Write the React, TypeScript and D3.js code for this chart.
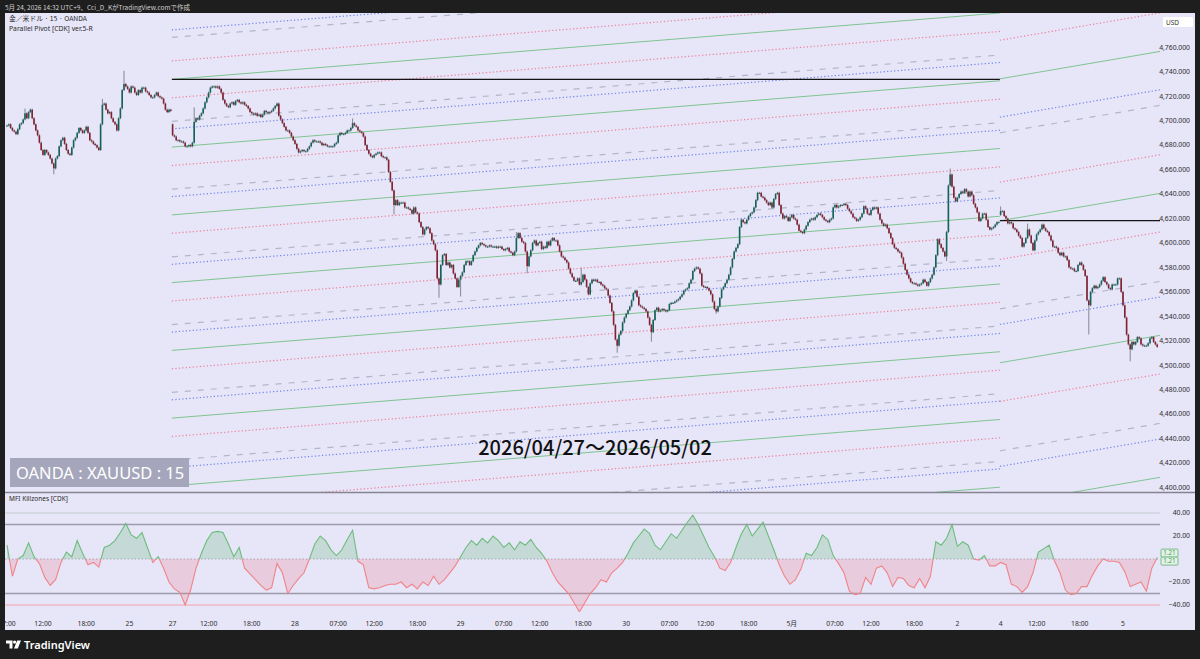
import React from "react";
import * as d3 from "d3";

// 15-minute closes, one array per trading session (JST)
const fri24Closes = [
  4696, 4697, 4694, 4692, 4691, 4689, 4693, 4697, 4698, 4701,
  4706, 4702, 4707, 4709, 4702, 4697, 4692, 4688, 4682, 4676,
  4672, 4676, 4674, 4672, 4669, 4665, 4661, 4669, 4671, 4679,
  4684, 4686, 4681, 4676, 4673, 4672, 4678, 4684, 4686, 4690,
  4694, 4692, 4690, 4692, 4695, 4690, 4684, 4683, 4681, 4680,
  4678, 4676, 4697, 4713, 4714, 4709, 4706, 4707, 4702, 4699,
  4697, 4692, 4702, 4710, 4725, 4730, 4728, 4726, 4723, 4728,
  4727, 4723, 4721, 4725, 4723, 4727, 4727, 4724, 4723, 4721,
  4719, 4719, 4721, 4723, 4720, 4719, 4718, 4714, 4709, 4707,
  4709, 4708,
];
const mon27Closes = [
  4688, 4687, 4684, 4684, 4683, 4683, 4682, 4679, 4679, 4680,
  4679, 4682, 4699, 4702, 4701, 4704, 4706, 4710, 4715, 4719,
  4723, 4727, 4728, 4728, 4727, 4728, 4726, 4723, 4717, 4714,
  4712, 4711, 4714, 4715, 4713, 4716, 4717, 4715, 4714, 4715,
  4713, 4712, 4710, 4707, 4706, 4705, 4706, 4704, 4705, 4703,
  4705, 4708, 4707, 4706, 4707, 4708, 4710, 4712, 4714, 4704,
  4701, 4698, 4695, 4692, 4692, 4690, 4687, 4684, 4681, 4677,
  4674, 4675, 4676, 4675, 4675, 4677, 4679, 4682, 4684, 4683,
  4683, 4683, 4682, 4680, 4681, 4680, 4679, 4679, 4679, 4679,
  4681, 4682,
];
const tue28Closes = [
  4688, 4690, 4689, 4689, 4690, 4692, 4692, 4694, 4698, 4696,
  4695, 4692, 4691, 4690, 4687, 4680, 4676, 4673, 4671, 4670,
  4672, 4673, 4674, 4674, 4671, 4670, 4670, 4668, 4658, 4650,
  4643, 4631, 4635, 4631, 4633, 4633, 4633, 4629, 4629, 4628,
  4627, 4624, 4629, 4625, 4624, 4617, 4613, 4607, 4611, 4613,
  4612, 4608, 4602, 4599, 4594, 4571, 4566, 4582, 4590, 4591,
  4582, 4584, 4580, 4582, 4575, 4571, 4564, 4570, 4573, 4576,
  4582, 4585, 4585, 4582, 4585, 4590, 4593, 4596, 4598, 4600,
  4599, 4598, 4597, 4597, 4598, 4597, 4597, 4597, 4596, 4597,
  4597, 4595,
];
const wed29Closes = [
  4594, 4595, 4596, 4593, 4592, 4590, 4593, 4604, 4608, 4604,
  4601, 4600, 4593, 4581, 4589, 4594, 4600, 4602, 4598, 4600,
  4601, 4595, 4597, 4596, 4601, 4598, 4602, 4604, 4602, 4602,
  4598, 4593, 4589, 4588, 4586, 4584, 4579, 4575, 4572, 4569,
  4569, 4571, 4566, 4568, 4574, 4570, 4564, 4558, 4567, 4570,
  4569, 4570, 4568, 4568, 4566, 4565, 4563, 4562, 4557, 4551,
  4544, 4533, 4521, 4516, 4525, 4528, 4535, 4539, 4542, 4545,
  4548, 4553, 4559, 4561, 4556, 4549, 4548, 4547, 4546, 4544,
  4539, 4533, 4527, 4537, 4545, 4547, 4544, 4545, 4546, 4545,
  4544, 4545,
];
const thu30Closes = [
  4550, 4551, 4551, 4552, 4553, 4554, 4556, 4558, 4561, 4562,
  4563, 4567, 4570, 4577, 4579, 4580, 4579, 4575, 4565, 4564,
  4564, 4563, 4561, 4558, 4552, 4546, 4544, 4548, 4555, 4562,
  4564, 4567, 4570, 4574, 4580, 4587, 4593, 4596, 4599, 4613,
  4619, 4617, 4616, 4619, 4622, 4624, 4625, 4629, 4635, 4641,
  4641, 4638, 4637, 4635, 4633, 4631, 4633, 4629, 4636, 4640,
  4641, 4631, 4624, 4620, 4622, 4621, 4618, 4621, 4623, 4620,
  4619, 4615, 4610, 4609, 4608, 4611, 4614, 4617, 4619, 4620,
  4619, 4621, 4623, 4624, 4623, 4621, 4619, 4618, 4617, 4619,
  4620, 4629,
];
const fri01Closes = [
  4631, 4629, 4630, 4631, 4631, 4632, 4631, 4628, 4626, 4624,
  4621, 4620, 4618, 4619, 4621, 4624, 4630, 4628, 4624, 4623,
  4627, 4629, 4628, 4629, 4624, 4619, 4616, 4614, 4615, 4612,
  4608, 4604, 4599, 4596, 4595, 4593, 4592, 4588, 4583, 4578,
  4574, 4571, 4568, 4567, 4567, 4566, 4565, 4566, 4567, 4570,
  4568, 4565, 4568, 4571, 4574, 4580, 4590, 4603, 4599, 4596,
  4593, 4589, 4609, 4647, 4656, 4646, 4637, 4634, 4637, 4640,
  4642, 4641, 4644, 4642, 4638, 4642, 4639, 4632, 4629, 4625,
  4618, 4620, 4624, 4624, 4619, 4613, 4611, 4612, 4613, 4615,
  4617, 4617,
];
const mon04Closes = [
  4626, 4626, 4622, 4620, 4616, 4617, 4616, 4612, 4611, 4609,
  4606, 4604, 4597, 4600, 4604, 4611, 4606, 4600, 4594, 4602,
  4607, 4609, 4611, 4615, 4612, 4610, 4609, 4606, 4602, 4597,
  4597, 4596, 4592, 4590, 4592, 4589, 4589, 4586, 4580, 4579,
  4579, 4577, 4577, 4582, 4584, 4582, 4578, 4573, 4553, 4549,
  4560, 4563, 4565, 4563, 4564, 4566, 4569, 4572, 4568, 4566,
  4563, 4562, 4566, 4566, 4566, 4571, 4571, 4560, 4549, 4539,
  4525, 4517, 4513, 4519, 4517, 4519, 4523, 4522, 4517, 4516,
  4516, 4516, 4518, 4522, 4523, 4519, 4517, 4515,
];
const sessionCloses = [
  fri24Closes, mon27Closes, tue28Closes, wed29Closes,
  thu30Closes, fri01Closes, mon04Closes,
];

// weekly opening gaps and the long wicks that stand out
const gapOpens = [
  { bar: 92, open: 4697 },
  { bar: 552, open: 4623 },
];
const wickExtremes = [
  { bar: 10, high: 4709 },
  { bar: 26, low: 4657 },
  { bar: 53, high: 4717 },
  { bar: 65, high: 4740 },
  { bar: 104, high: 4710 },
  { bar: 192, high: 4701 },
  { bar: 215, low: 4624 },
  { bar: 240, low: 4556 },
  { bar: 252, low: 4557 },
  { bar: 283, high: 4608 },
  { bar: 289, low: 4576 },
  { bar: 319, high: 4579 },
  { bar: 339, low: 4511 },
  { bar: 358, low: 4520 },
  { bar: 394, low: 4543 },
  { bar: 522, low: 4586 },
  { bar: 524, high: 4660 },
  { bar: 552, high: 4629 },
  { bar: 567, high: 4615 },
  { bar: 601, low: 4526 },
  { bar: 624, low: 4504 },
];

// MFI Killzones, one reading every 3 bars
const mfiStep = 3;
const mfiValues = [
  12, -15, 0, 3, 14, 2, -4, -16, -23, -18,
  -3, 6, 2, 16, 5, -5, -3, -7, 10, 12,
  16, 23, 31, 21, 18, 23, 10, -3, 2, -8,
  -20, -26, -29, -40, -27, -8, 5, 16, 23, 24,
  23, 13, 2, 10, -8, -13, -18, -23, -27, -25,
  -4, -12, -30, -23, -17, -12, 0, 13, 20, 16,
  8, 3, 8, 17, 25, -2, -5, -25, -26, -25,
  -23, -22, -22, -20, -25, -22, -26, -20, -23, -15,
  -22, -18, -12, -6, 2, 10, 16, 12, 18, 14,
  20, 16, 10, 14, 8, 15, 12, 17, 10, 5,
  -2, -12, -20, -25, -30, -38, -46, -38, -30, -25,
  -18, -20, -12, -8, -3, 5, 14, 20, 26, 22,
  12, 8, 15, 22, 18, 25, 32, 38, 30, 20,
  10, 2, -8, -10, -3, 10, 22, 30, 20, 26,
  32, 20, 8, -5, -15, -22, -18, -9, 5, 3,
  10, 21, 17, 3, -4, -12, -28, -31, -30, -16,
  -22, -8, -6, -12, -24, -16, -17, -23, -25, -17,
  -25, -15, 15, 12, 18, 30, 11, 15, 12, 0,
  -1, 3, -6, -6, -3, -5, -22, -24, -29, -24,
  -12, 6, 9, 12, -2, -12, -27, -31, -30, -24,
  -24, -14, -6, 0, -2, -2, -3, -11, -24, -22,
  -20, -28, -8, 1.21,
];
const mfiLevels = [40, 30, 0, -30, -40];
const mfiTickLabels = [40, 20, -20, -40];

const timeTickBars = [
  0, 20, 44, 68, 92, 112, 136, 160, 184, 204, 228, 252, 276, 296,
  320, 344, 368, 388, 412, 436, 460, 480, 504, 528, 552, 572, 596, 620,
];
const timeTickLabels = [
  "07:00", "12:00", "18:00", "25", "27", "12:00", "18:00", "28",
  "07:00", "12:00", "18:00", "29", "07:00", "12:00", "18:00", "30",
  "07:00", "12:00", "18:00", "5月", "07:00", "12:00", "18:00", "2",
  "4", "12:00", "18:00", "5",
];

// Parallel Pivot: weekly pivot, band width and drift per bar
const pivotSegments = [
  { anchorBar: 92, startBar: 91.6, endBar: 551.6, pivot: 4733.8, period: 55.4, slope: 0.118, reps: 7 },
  { anchorBar: 552, startBar: 551.6, endBar: null, pivot: 4618.2, period: 116.1, slope: 0.252, reps: 3 },
];
const pivotFractions = [0.272, 0.62, 0.73, 1];
const pivotKinds = ["red", "gray", "blue", "green"];

const BG = "#e7e5f8";
const FRAME = "#1e1e1e";
const FONT = "'Noto Sans', 'Noto Sans CJK JP', sans-serif";
const JP = "'Noto Sans CJK JP', 'Noto Sans', sans-serif";

const lineStyle: Record<string, { stroke: string; width: number; dash?: string }> = {
  green: { stroke: "#7ec58f", width: 1 },
  red: { stroke: "#ee7c97", width: 1.2, dash: "1.2 2.3" },
  blue: { stroke: "#6a82ee", width: 1.2, dash: "1.2 2.3" },
  gray: { stroke: "#b3b6c8", width: 1.2, dash: "6 7" },
};

export default function App() {
  const W = 1200;
  const H = 659;
  const left = 5;
  const right = 1195;
  const top = 13;
  const bottom = 630;
  const mainBottom = 492;
  const oscTop = 493;
  const oscBottom = 612;
  const plotRight = 1160;

  const closes = sessionCloses.flat();
  const n = closes.length;
  const x = d3.scaleLinear().domain([0, n - 1]).range([7, 7 + 1.8 * (n - 1)]);
  const yP = d3.scaleLinear().domain([4400, 4760]).range([487.5, 47.3]);
  const yO = d3.scaleLinear().domain([-40, 40]).range([605, 513]);

  const gapMap = new Map(gapOpens.map((g) => [g.bar, g.open]));
  const wickMap = new Map(wickExtremes.map((w) => [w.bar, w]));
  const candles = closes.map((c, i) => {
    const o = gapMap.get(i) ?? (i > 0 ? closes[i - 1] : c);
    const w: any = wickMap.get(i) || {};
    const hi = Math.max(o, c, w.high ?? -Infinity);
    const lo = Math.min(o, c, w.low ?? Infinity);
    return { i, o, c, hi, lo };
  });

  const lastBar = x.invert(plotRight);
  const pivotLines: any[] = [];
  const blackLines: any[] = [];
  pivotSegments.forEach((seg, si) => {
    const b0 = seg.startBar;
    const b1 = seg.endBar ?? lastBar;
    const at = (lvl: number, b: number) => lvl + seg.slope * (b - seg.anchorBar);
    const levels = [{ off: 0, kind: "green" }];
    for (let k = 0; k < seg.reps; k++) {
      pivotFractions.forEach((f, j) => {
        levels.push({ off: (k + f) * seg.period, kind: pivotKinds[j] });
        levels.push({ off: -(k + f) * seg.period, kind: pivotKinds[j] });
      });
    }
    levels.forEach((l, li) => {
      pivotLines.push({
        key: `${si}-${li}`,
        kind: l.kind,
        x1: x(b0),
        x2: x(b1),
        y1: yP(at(seg.pivot + l.off, b0)),
        y2: yP(at(seg.pivot + l.off, b1)),
      });
    });
    blackLines.push({ key: si, x1: x(b0), x2: x(b1), y: yP(seg.pivot) });
  });

  const mfiPts: [number, number][] = mfiValues.map((v, k) => [x(k * mfiStep), yO(v)]);
  const line = d3.line();
  const area = d3.area().y0(yO(0));
  const zeroY = yO(0);
  const lastMfi = mfiValues[mfiValues.length - 1];

  const priceTicks = yP.ticks(18);
  const fmtPrice = d3.format(",.3f");
  const fmtOsc = d3.format(".2f");

  return (
    <div style={{ position: "absolute", left: 0, top: 0 }}>
      <svg width={W} height={H} style={{ display: "block" }}>
        <defs>
          <clipPath id="mainClip">
            <rect x={left} y={top} width={plotRight - left} height={mainBottom - top} />
          </clipPath>
          <clipPath id="oscAbove">
            <rect x={left} y={oscTop} width={plotRight - left} height={zeroY - oscTop} />
          </clipPath>
          <clipPath id="oscBelow">
            <rect x={left} y={zeroY} width={plotRight - left} height={oscBottom - zeroY} />
          </clipPath>
        </defs>

        <rect x={0} y={0} width={W} height={H} fill={FRAME} />
        <rect x={left} y={top} width={right - left} height={bottom - top} fill={BG} />

        {/* main pane */}
        <g clipPath="url(#mainClip)">
          {pivotLines.map((l) => {
            const s = lineStyle[l.kind];
            return (
              <line
                key={l.key}
                x1={l.x1}
                x2={l.x2}
                y1={l.y1}
                y2={l.y2}
                stroke={s.stroke}
                strokeWidth={s.width}
                strokeDasharray={s.dash}
              />
            );
          })}
          {blackLines.map((l) => (
            <line key={l.key} x1={l.x1} x2={l.x2} y1={l.y} y2={l.y} stroke="#141414" strokeWidth={1.3} />
          ))}
          {candles.map((d) => {
            const up = d.c >= d.o;
            const yTop = yP(Math.max(d.o, d.c));
            const yBot = yP(Math.min(d.o, d.c));
            return (
              <g key={d.i}>
                <line
                  x1={x(d.i)}
                  x2={x(d.i)}
                  y1={yP(d.hi) - 1}
                  y2={yP(d.lo) + 1}
                  stroke="#7c7c88"
                  strokeWidth={0.9}
                />
                <rect
                  x={x(d.i) - 0.8}
                  width={1.6}
                  y={yTop}
                  height={Math.max(1, yBot - yTop)}
                  fill={up ? "#136457" : "#84202f"}
                />
              </g>
            );
          })}
        </g>

        {/* price axis */}
        <rect x={1163} y={17} width={30} height={10} rx={1.5} fill="#ffffff" />
        <text x={1166} y={24.5} fontSize={6.5} fill="#333" fontFamily={FONT}>
          USD
        </text>
        {priceTicks.map((t) => (
          <text key={t} x={1190} y={yP(t) + 2.3} fontSize={6.8} textAnchor="end" fill="#2e2e2e" fontFamily={FONT}>
            {fmtPrice(t)}
          </text>
        ))}

        {/* legends */}
        <text x={9} y={21} fontSize={6.8} fill="#2a2a2a" fontFamily={JP}>
          金／米ドル · 15 · OANDA
        </text>
        <text x={9} y={30.5} fontSize={6.8} fill="#2a2a2a" fontFamily={FONT}>
          Parallel Pivot [CDK] ver.5-R
        </text>

        <text x={595} y={455} fontSize={20} fontWeight={500} textAnchor="middle" fill="#111" fontFamily={JP}>
          2026/04/27～2026/05/02
        </text>

        <rect x={10} y={458} width={179} height={29} fill="#a5a6bb" />
        <text x={16} y={479} fontSize={16.5} fill="#ffffff" fontFamily={FONT}>
          OANDA : XAUUSD : 15
        </text>

        {/* pane separator */}
        <line x1={left} x2={right} y1={492.5} y2={492.5} stroke="#85858f" strokeWidth={1.3} />

        {/* oscillator pane */}
        <text x={9} y={501} fontSize={6.5} fill="#2a2a2a" fontFamily={FONT}>
          MFI Killzones [CDK]
        </text>
        {mfiLevels.map((v) => (
          <line
            key={v}
            x1={left}
            x2={plotRight}
            y1={yO(v)}
            y2={yO(v)}
            stroke={v === 40 ? "#c2cdd0" : v === -40 ? "#f2a2ad" : v === 0 ? "#9d9da8" : "#9b9ba9"}
            strokeWidth={Math.abs(v) === 30 ? 1.3 : v === 0 ? 0.8 : 1}
            strokeDasharray={v === 0 ? "1.5 2" : undefined}
          />
        ))}
        <g clipPath="url(#oscAbove)">
          <path d={area(mfiPts) || ""} fill="rgba(108,190,124,0.27)" />
          <path d={line(mfiPts) || ""} fill="none" stroke="#6dbd7c" strokeWidth={1.1} />
        </g>
        <g clipPath="url(#oscBelow)">
          <path d={area(mfiPts) || ""} fill="rgba(240,120,132,0.24)" />
          <path d={line(mfiPts) || ""} fill="none" stroke="#f08489" strokeWidth={1.1} />
        </g>
        {mfiTickLabels.map((v) => (
          <text key={v} x={1190} y={yO(v) + 2.3} fontSize={6.8} textAnchor="end" fill="#2e2e2e" fontFamily={FONT}>
            {fmtOsc(v)}
          </text>
        ))}
        {[yO(lastMfi) - 8.5, yO(lastMfi) - 0.5].map((yy, k) => (
          <g key={k}>
            <rect x={1161} y={yy} width={17} height={8} rx={1} fill="#e2f2e6" stroke="#62b073" strokeWidth={0.8} />
            <text x={1169.5} y={yy + 6} fontSize={6.2} textAnchor="middle" fill="#4c9d5e" fontFamily={FONT}>
              {fmtOsc(lastMfi)}
            </text>
          </g>
        ))}

        {/* time axis */}
        {timeTickBars.map((b, k) => (
          <text
            key={k}
            x={x(b)}
            y={625.5}
            fontSize={6.8}
            textAnchor="middle"
            fill="#2e2e2e"
            fontFamily={timeTickLabels[k].includes("月") ? JP : FONT}
          >
            {timeTickLabels[k]}
          </text>
        ))}

        {/* frame over clipped labels */}
        <rect x={0} y={0} width={left} height={H} fill={FRAME} />
        <rect x={right} y={0} width={W - right} height={H} fill={FRAME} />
        <rect x={0} y={0} width={W} height={top} fill={FRAME} />
        <rect x={0} y={bottom} width={W} height={H - bottom} fill={FRAME} />

        <text x={5} y={9.5} fontSize={6.5} fill="#cfcfcf" fontFamily={JP}>
          5月 24, 2026 14:32 UTC+9、Cci_D_KがTradingView.comで作成
        </text>

        {/* TradingView logo */}
        <g fill="#ffffff">
          <path d="M6 640.5 H12.5 V648.5 H9.5 V643.5 H6 Z" />
          <circle cx={14.6} cy={642.1} r={1.6} />
          <path d="M17.2 640.5 H21 L17.8 648.5 H14 Z" />
        </g>
        <text x={24} y={648.5} fontSize={11} fontWeight={600} fill="#ffffff" fontFamily={FONT}>
          TradingView
        </text>
      </svg>
    </div>
  );
}
